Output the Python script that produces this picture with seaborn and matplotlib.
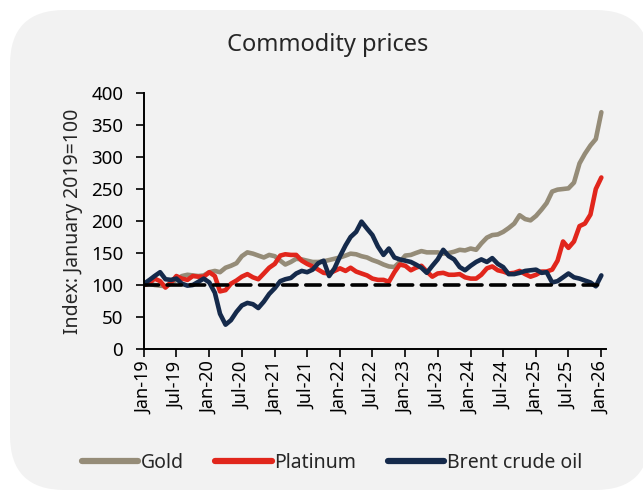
import numpy as np
import pandas as pd
import matplotlib
matplotlib.use("Agg")
import matplotlib.pyplot as plt
import matplotlib.dates as mdates
from matplotlib.patches import FancyBboxPatch
from matplotlib.lines import Line2D
import seaborn as sns

# monthly index values, Jan-19 .. Jan-26 (Jan 2019 = 100)
gold = [100, 102, 100, 99, 98, 103, 108, 114, 116, 115, 114, 115,
        120, 122, 120, 127, 130, 134, 145, 151, 149, 146, 143, 147,
        145, 138, 132, 136, 141, 140, 138, 136, 136, 137, 139, 141,
        143, 146, 149, 148, 145, 143, 139, 136, 132, 129, 128, 136,
        146, 147, 150, 153, 151, 151, 151, 149, 150, 152, 155, 154,
        157, 155, 165, 174, 178, 179, 183, 189, 196, 209, 203, 201,
        208, 218, 228, 246, 249, 250, 251, 260, 290, 305, 318, 328,
        370]
platinum = [100, 103, 110, 106, 96, 104, 114, 110, 108, 114, 113, 113,
            120, 114, 90, 92, 102, 107, 113, 117, 112, 109, 118, 127,
            133, 146, 148, 147, 147, 138, 133, 129, 124, 119, 118, 122,
            126, 122, 127, 121, 118, 115, 110, 108, 108, 105, 120, 132,
            130, 123, 127, 130, 121, 113, 118, 119, 116, 116, 117, 112,
            110, 110, 116, 126, 129, 123, 121, 118, 119, 122, 117, 113,
            116, 121, 121, 124, 138, 168, 158, 168, 192, 196, 210, 250,
            268]
brent = [102, 108, 114, 120, 109, 108, 110, 102, 99, 100, 105, 110,
         104, 88, 55, 38, 45, 58, 68, 72, 70, 64, 74, 86,
         95, 106, 109, 111, 118, 122, 120, 124, 134, 138, 114, 126,
         145, 162, 175, 183, 199, 188, 178, 160, 147, 157, 143, 140,
         138, 136, 132, 127, 119, 130, 140, 155, 145, 140, 128, 123,
         130, 136, 140, 136, 142, 133, 128, 117, 117, 119, 122, 123,
         124, 119, 120, 104, 106, 112, 118, 112, 110, 107, 104, 98,
         115]
series_names = ["Gold", "Platinum", "Brent crude oil"]
colors = ["#958c78", "#e1261c", "#152a4b"]

dates = pd.date_range("2019-01-01", periods=len(gold), freq="MS")
df = pd.DataFrame({"date": dates, "Gold": gold, "Platinum": platinum,
                   "Brent crude oil": brent})
long_df = df.melt(id_vars="date", var_name="series", value_name="index")

sns.set_style("white")
plt.rcParams["font.family"] = ["Noto Sans", "DejaVu Sans"]

fig = plt.figure(figsize=(6.43, 4.93), dpi=100)
fig.patch.set_facecolor("white")

# rounded grey panel behind everything
panel = FancyBboxPatch((10 / 643, 3 / 493), 640 / 643, 480 / 493,
                       boxstyle="round,pad=0,rounding_size=0.085",
                       transform=fig.transFigure, facecolor="#f2f2f2",
                       edgecolor="none", mutation_aspect=643 / 493)
panel.set_zorder(-10)
fig.add_artist(panel)

ax = fig.add_axes([144 / 643, 144 / 493, 462 / 643, 256 / 493])
ax.set_facecolor("none")
ax.set_zorder(1)

sns.lineplot(data=long_df, x="date", y="index", hue="series",
             hue_order=series_names, palette=colors, linewidth=3.3,
             legend=False, ax=ax)

ax.axhline(100, color="black", linewidth=2.6, linestyle=(0, (4.0, 2.4)),
           dash_capstyle="round", zorder=5)

ax.set_ylim(0, 400)
ax.set_yticks(range(0, 401, 50))
ax.set_xlim(dates[0], dates[-1] + pd.Timedelta(days=26))
ax.set_xticks(pd.date_range("2019-01-01", "2026-01-01", freq="6MS"))
ax.xaxis.set_major_formatter(mdates.DateFormatter("%b-%y"))
ax.tick_params(axis="x", rotation=90, labelsize=13, length=6, width=1.2,
               direction="out", pad=3, bottom=True, colors="black")
ax.tick_params(axis="y", labelsize=13.5, length=6, width=1.2,
               direction="out", pad=9, left=True, colors="black")
for side in ["top", "right"]:
    ax.spines[side].set_visible(False)
for side in ["left", "bottom"]:
    ax.spines[side].set_color("black")
    ax.spines[side].set_linewidth(1.4)

ax.set_xlabel("")
ax.set_ylabel("Index: January 2019=100", fontsize=14, labelpad=6)
fig.text(328 / 643, 1 - 45 / 493, "Commodity prices", ha="center",
         va="center", fontsize=17)

handles = [Line2D([0], [0], color=c, linewidth=4.5, solid_capstyle="round")
           for c in colors]
fig.legend(handles, series_names, loc="center", ncol=3, frameon=False,
           bbox_to_anchor=(332 / 643, 1 - 463 / 493), fontsize=14,
           handlelength=2.9, handletextpad=0.15, columnspacing=1.6)

fig.savefig("out.png", dpi=100)
